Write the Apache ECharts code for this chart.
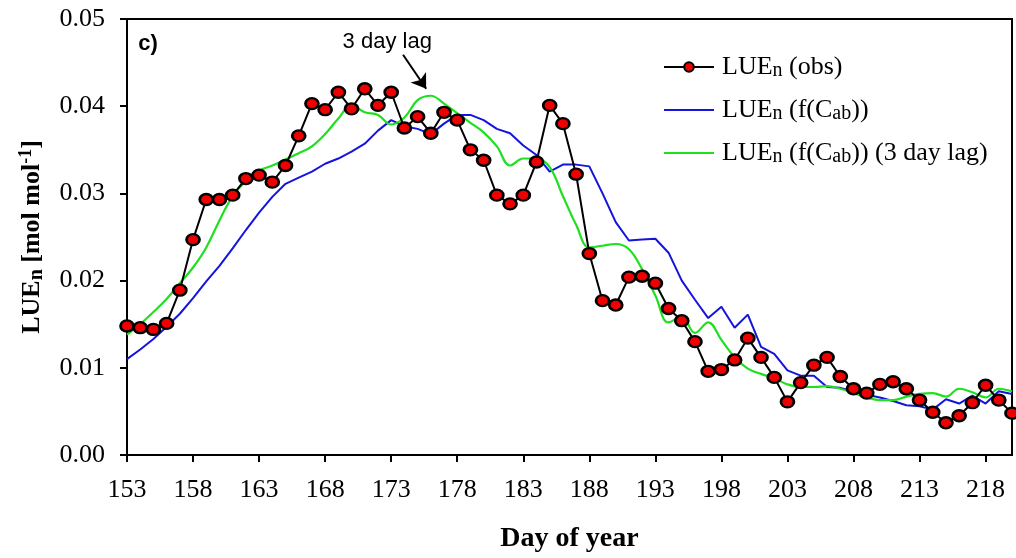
<!DOCTYPE html>
<html>
<head>
<meta charset="utf-8">
<script src="https://cdn.jsdelivr.net/npm/echarts@6/dist/echarts.min.js"></script>
<style>
html,body{margin:0;padding:0;background:#fff;}
#chart{width:1016px;height:558px;}
</style>
</head>
<body>
<div id="chart"></div>
<script>
// ---- Data ----
const days = [];
for (let d = 153; d <= 220; d++) days.push(d);

const tickDays = [153,158,163,168,173,178,183,188,193,198,203,208,213,218];

const lueObs = [
  0.0148,0.0146,0.0144,0.0151,0.0189,0.0247,0.0293,0.0293,0.0298,0.0317,
  0.0321,0.0313,0.0332,0.0366,0.0403,0.0396,0.0416,0.0397,0.0420,0.0401,
  0.0416,0.0375,0.0388,0.0369,0.0393,0.0384,0.0350,0.0338,0.0298,0.0288,
  0.0298,0.0336,0.0401,0.0380,0.0322,0.0231,0.0177,0.0172,0.0204,0.0205,
  0.0197,0.0168,0.0154,0.0130,0.0096,0.0098,0.0109,0.0134,0.0112,0.0089,
  0.0061,0.0083,0.0103,0.0112,0.0090,0.0076,0.0071,0.0081,0.0084,0.0076,
  0.0063,0.0049,0.0037,0.0045,0.0060,0.0080,0.0063,0.0048
];

const lueCab = [
  0.0110,0.0121,0.0133,0.0147,0.0162,0.0180,0.0199,0.0217,0.0237,0.0258,
  0.0278,0.0296,0.0311,0.0318,0.0325,0.0334,0.0340,0.0348,0.0357,0.0372,
  0.0384,0.0377,0.0374,0.0368,0.0380,0.0390,0.0390,0.0384,0.0374,0.0369,
  0.0355,0.0344,0.0325,0.0333,0.0333,0.0331,0.0300,0.0267,0.0246,0.0247,
  0.0248,0.0232,0.0200,0.0178,0.0157,0.0170,0.0146,0.0161,0.0124,0.0116,
  0.0097,0.0091,0.0091,0.0078,0.0077,0.0073,0.0069,0.0066,0.0062,0.0057,
  0.0056,0.0052,0.0064,0.0059,0.0068,0.0059,0.0073,0.0070
];

const lueCabLag = [
  0.0138,0.0150,0.0164,0.0179,0.0197,0.0215,0.0238,0.0269,0.0297,0.0314,
  0.0326,0.0332,0.0339,0.0346,0.0354,0.0368,0.0386,0.0401,0.0393,0.0390,
  0.0379,0.0387,0.0407,0.0412,0.0403,0.0392,0.0381,0.0370,0.0354,0.0332,
  0.0340,0.0340,0.0330,0.0297,0.0264,0.0238,0.0240,0.0242,0.0236,0.0213,
  0.0183,0.0152,0.0159,0.0140,0.0152,0.0132,0.0112,0.0099,0.0093,0.0088,
  0.0081,0.0078,0.0078,0.0079,0.0076,0.0071,0.0066,0.0063,0.0063,0.0067,
  0.0070,0.0071,0.0067,0.0076,0.0072,0.0066,0.0076,0.0073
];

// annotation anchor points (data coordinates)
const lagText = '3 day lag';
const lagTextAt = [172.7, 0.0474];
const lagArrowFrom = [173.9, 0.0459];
const lagArrowTo = [175.65, 0.0420];
const panelText = 'c)';
const panelTextAt = [154.6, 0.0471];

const pairs = arr => days.map((d, i) => [d, arr[i]]);

const SERIF = '"Liberation Serif","Times New Roman",serif';
const SANS = '"Liberation Sans",Arial,sans-serif';

const legendRich = {
  m: {fontFamily: SERIF, fontSize: 26, lineHeight: 28, color: '#000', verticalAlign: 'middle'},
  s: {fontFamily: SERIF, fontSize: 20, lineHeight: 14, color: '#000', verticalAlign: 'bottom'}
};
const legendNames = {
  'obs': '{m|LUE}{s|n}{m| (obs)}',
  'cab': '{m|LUE}{s|n}{m| (f(C}{s|ab}{m|))}',
  'lag': '{m|LUE}{s|n}{m| (f(C}{s|ab}{m|)) (3 day lag)}'
};

const chart = echarts.init(document.getElementById('chart'), null, {renderer: 'canvas'});

const option = {
  animation: false,
  backgroundColor: '#fff',
  grid: {left: 127, right: 4, top: 19, bottom: 101, show: true, borderColor: '#000', borderWidth: 2, backgroundColor: 'transparent'},
  legend: {
    orient: 'vertical',
    left: 658,
    top: 49,
    itemWidth: 50,
    itemHeight: 12,
    itemGap: 16,
    data: [
      {name: 'obs'},
      {name: 'cab', itemStyle: {opacity: 0}},
      {name: 'lag', itemStyle: {opacity: 0}}
    ],
    formatter: n => legendNames[n],
    textStyle: {rich: legendRich, padding: [0, 0, 0, 3]}
  },
  xAxis: {
    type: 'value',
    min: 153,
    max: 220,
    name: 'Day of year',
    nameLocation: 'middle',
    nameGap: 70,
    nameTextStyle: {fontFamily: SERIF, fontWeight: 'bold', fontSize: 28, color: '#000'},
    axisLine: {show: true, lineStyle: {color: '#000', width: 2}},
    axisTick: {show: true, customValues: tickDays, length: 7, inside: false, lineStyle: {color: '#000', width: 2}},
    axisLabel: {customValues: tickDays, margin: 22, fontFamily: SERIF, fontSize: 26, color: '#000'},
    splitLine: {show: false}
  },
  yAxis: {
    type: 'value',
    min: 0,
    max: 0.05,
    interval: 0.01,
    name: '{b|LUE}{bs|n}{b| [mol mol}{bp|-1}{b|]}',
    nameLocation: 'middle',
    nameGap: 80,
    nameRotate: 90,
    nameTextStyle: {
      rich: {
        b: {fontFamily: SERIF, fontWeight: 'bold', fontSize: 26, lineHeight: 30, color: '#000'},
        bs: {fontFamily: SERIF, fontWeight: 'bold', fontSize: 20, lineHeight: 16, color: '#000', verticalAlign: 'bottom'},
        bp: {fontFamily: SERIF, fontWeight: 'bold', fontSize: 18, lineHeight: 16, color: '#000', verticalAlign: 'top'}
      }
    },
    axisLine: {show: true, lineStyle: {color: '#000', width: 2}},
    axisTick: {show: true, length: 7, lineStyle: {color: '#000', width: 2}},
    axisLabel: {margin: 22, fontFamily: SERIF, fontSize: 26, color: '#000', formatter: v => v.toFixed(2)},
    splitLine: {show: false}
  },
  series: [
    {
      name: 'cab',
      type: 'line',
      data: pairs(lueCab),
      symbol: 'none',
      lineStyle: {color: '#1414dc', width: 2},
      itemStyle: {color: '#1414dc'},
      z: 2
    },
    {
      name: 'lag',
      type: 'line',
      data: pairs(lueCabLag),
      symbol: 'none',
      smooth: 0.4,
      lineStyle: {color: '#1ee01e', width: 2.2},
      itemStyle: {color: '#1ee01e'},
      z: 3
    },
    {
      name: 'obs',
      type: 'line',
      data: pairs(lueObs),
      symbol: 'circle',
      symbolSize: [13, 11],
      showAllSymbol: true,
      lineStyle: {color: '#000', width: 2},
      itemStyle: {color: '#ee0000', borderColor: '#000', borderWidth: 2.5},
      z: 4,
      markLine: {
        silent: true,
        symbol: ['none', 'arrow'],
        symbolSize: 14,
        label: {show: false},
        lineStyle: {color: '#000', width: 2, type: 'solid'},
        itemStyle: {color: '#000'},
        emphasis: {disabled: true},
        data: [[{coord: lagArrowFrom}, {coord: lagArrowTo}]]
      }
    }
  ]
};

chart.setOption(option);

const pText = chart.convertToPixel({gridIndex: 0}, lagTextAt);
const pPanel = chart.convertToPixel({gridIndex: 0}, panelTextAt);
chart.setOption({
  graphic: [
    {type: 'text', x: pText[0], y: pText[1], style: {text: lagText, font: '22px ' + SANS, fill: '#000', align: 'center', verticalAlign: 'middle'}},
    {type: 'text', x: pPanel[0], y: pPanel[1], style: {text: panelText, font: 'bold 22px ' + SANS, fill: '#000', align: 'center', verticalAlign: 'middle'}}
  ]
});
</script>
</body>
</html>
